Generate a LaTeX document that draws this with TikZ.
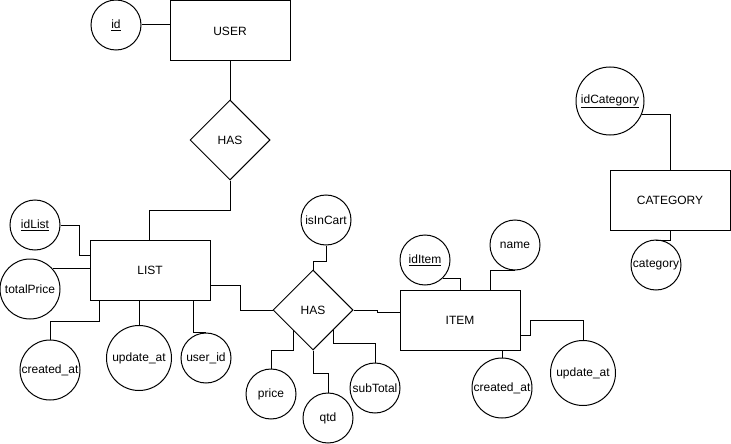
\documentclass[tikz,border=0pt]{standalone}
\usepackage{fontspec}
\setmainfont{Liberation Sans}
\usetikzlibrary{shapes.geometric,calc}
\begin{document}
\begin{tikzpicture}[x=1pt,y=-1pt,
  font=\fontsize{12}{14}\selectfont,
  every path/.style={line width=1pt},
  ent/.style={draw, rectangle, minimum width=120pt, minimum height=60pt, inner sep=0pt},
  rel/.style={draw, diamond, minimum width=80pt, minimum height=80pt, inner sep=0pt, shape aspect=1},
  attr/.style={draw, circle, inner sep=0pt, minimum size=#1},
  attr/.default=50pt,
  conn/.style={draw, line width=1pt}
]
\useasboundingbox (0,0) rectangle (731,444);

% entities
\node[ent] (user) at (230,31) {USER};
\node[ent] (list) at (150,270) {LIST};
\node[ent] (item) at (460,320) {ITEM};
\node[ent] (category) at (670,200) {CATEGORY};

% relationships
\node[rel] (has1) at (230,140) {HAS};
\node[rel] (has2) at (313,310) {HAS};

% attributes
\node[attr] (id) at (116,25) {\underline{id}};
\node[attr] (idList) at (35,225) {\underline{idList}};
\node[attr=60pt] (totalPrice) at (30,289) {totalPrice};
\node[attr=60pt] (createdL) at (50,370) {created\_at};
\node[attr=65pt] (updateL) at (139,358) {update\_at};
\node[attr] (userid) at (206,358) {user\_id};
\node[attr] (isInCart) at (326,220) {isInCart};
\node[attr] (price) at (271,394) {price};
\node[attr] (qtd) at (328,418) {qtd};
\node[attr] (subTotal) at (375,388) {subTotal};
\node[attr] (idItem) at (425,260) {\underline{idItem}};
\node[attr] (name) at (515,245) {name};
\node[attr=60pt] (createdI) at (502,388) {created\_at};
\node[attr=65pt] (updateI) at (583,373) {update\_at};
\node[attr=68pt] (idCategory) at (610,101) {\underline{idCategory}};
\node[attr] (category2) at (656,265) {category};

% connectors
\draw (id.east) -- (user.west |- id.east);
\draw (user.south) -- (has1.north);
\draw (has1.south) -- ++(0,30) -| ($(list.north west)+(60,0)$);
\draw (idList.east) -| ($(list.north west)+(-10,16)$) -- ($(list.north west)+(0,16)$);
\draw (totalPrice.42) -- (list.west |- totalPrice.42);
\draw (createdL.north) |- ($(list.south west)+(10,21)$) -- ($(list.south west)+(10,0)$);
\draw (updateL.north |- list.south) -- (updateL.north);
\draw ($(list.south west)+(104,0)$) |- (userid.north);
\draw ($(list.east)+(0,15)$) -| ($(has2.west)+(-32,0)$) -- (has2.west);
\draw (isInCart.south) -- ++(0,16) -| (has2.north);
\draw (has2.east) -- ++(24,0) |- ($(item.west)+(0,-8)$);
\draw ($(has2.center)+(-20,20)$) -- ++(0,20) -| (price.north);
\draw (has2.south) -- ++(0,23) -| (qtd.north);
\draw ($(has2.center)+(20,20)$) -- ++(0,13) -| (subTotal.north);
\draw (idItem.-45) -| (item.north);
\draw (name.south) -| ($(item.north)+(30,0)$);
\draw (createdI.north |- item.south) -- (createdI.north);
\draw ($(item.east)+(0,15)$) -- ++(10,0) -- ++(0,-15) -| (updateI.north);
\draw (idCategory.-23) -| (category.north);
\draw (category.south) -- ++(0,10) -| (category2.north);
\end{tikzpicture}
\end{document}
